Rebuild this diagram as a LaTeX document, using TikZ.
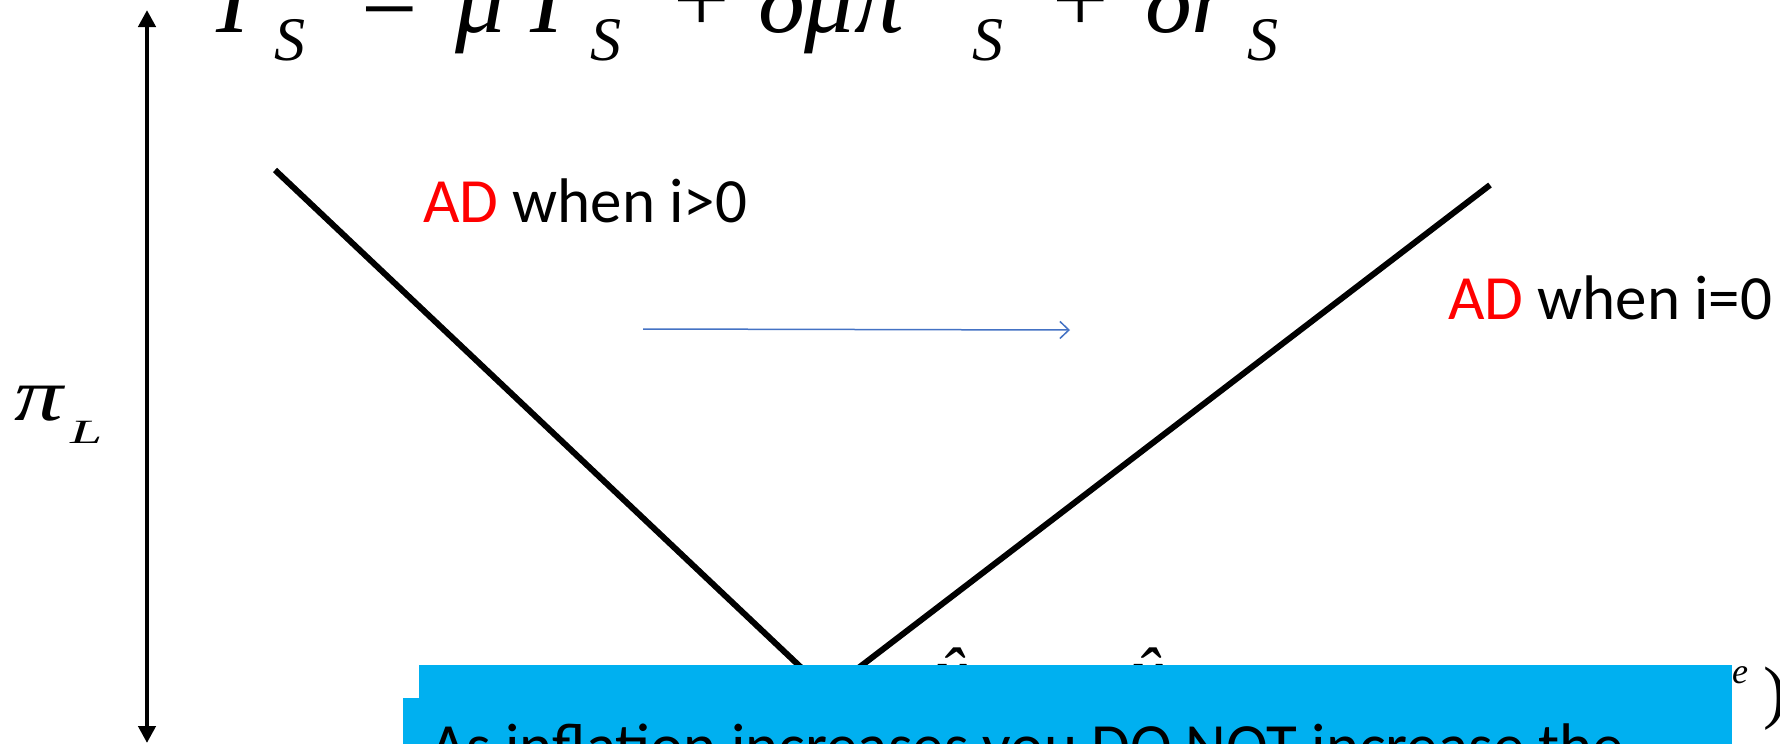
\documentclass[tikz,border=0pt]{standalone}
\usepackage{fontspec}
\setmainfont{Carlito}
\newfontfamily\tms{Liberation Serif}
\usetikzlibrary{arrows.meta}
\definecolor{boxblue}{RGB}{0,176,240}
\definecolor{arrblue}{RGB}{68,114,196}
\tikzset{
  eqbig/.style={inner sep=0pt, anchor=base west, font=\tms\itshape\fontsize{100}{100}\selectfont},
  eqsub/.style={inner sep=0pt, anchor=base west, font=\tms\itshape\fontsize{62}{62}\selectfont},
  eqop/.style={inner sep=0pt, anchor=base, font=\tms\fontsize{100}{100}\selectfont},
  txt/.style={inner sep=0pt, anchor=base west, font=\fontsize{63}{63}\selectfont},
  hatsty/.style={inner sep=0pt, anchor=base, font=\tms\itshape\fontsize{70}{70}\selectfont},
  curve/.style={line width=6pt, line join=miter},
  axisline/.style={line width=4.5pt, {Triangle[length=17pt,width=17pt]}-{Triangle[length=17pt,width=17pt]}},
  shiftarrow/.style={arrblue, line width=1.5pt, -{Straight Barb[length=9pt,width=17pt]}},
  cover/.style={fill=boxblue, draw=none, inner sep=0pt, anchor=north west},
}
\begin{document}
\begin{tikzpicture}[x=1pt,y=-1pt]
\useasboundingbox (0,0) rectangle (1780,744);
\clip (0,0) rectangle (1780,744);
\fill[white] (0,0) rectangle (1780,744);

% top formula (clipped)
\node[eqbig] (i1) at (216,32) {I};
\node[eqsub] (s1) at (274,60) {S};
\node[eqop] (eq) at (390,32) {=};
\node[eqbig] (mu1) at (455,32) {μ};
\node[eqbig] (i2) at (530,32) {I};
\node[eqsub] (s2) at (590,60) {S};
\node[eqop] (p1) at (702,32) {+};
\node[eqbig] (dmp) at (758,32) {δμπ};
\node[eqsub] (s3) at (972,60) {S};
\node[eqop] (p2) at (1081,32) {+};
\node[eqbig] (dr) at (1145,32) {δr};
\node[eqsub] (s4) at (1247,60) {S};

% vertical axis
\coordinate (atop) at (147,10);
\coordinate (abot) at (147,743);
\draw[axisline] (atop) -- (abot);

% pi_L
\node[inner sep=0pt, anchor=base west, font=\tms\itshape\fontsize{75}{75}\selectfont] (pi) at (14,420) {\scalebox{1.3}[1]{π}};
\node[inner sep=0pt, anchor=base west, font=\tms\itshape\fontsize{34}{34}\selectfont] (L) at (70,443) {\scalebox{1.7}[1]{L}};

% AD curves
\coordinate (lt) at (275,170);
\coordinate (rt) at (1490,185);
\coordinate (vx) at (827,692);
\draw[curve] (lt) -- (vx) -- (rt);

% labels
\node[txt] (ad1) at (423,222) {\textcolor{red}{AD} when i>0};
\node[txt] (ad2) at (1448,319) {\textcolor{red}{AD} when i=0};

% shift arrow
\coordinate (sa) at (643,329);
\coordinate (sb) at (1070,330);
\draw[shiftarrow] (sa) -- (sb);

% formula fragments behind the boxes
\node[hatsty] (yh1) at (952,696) {ŷ};
\node[hatsty] (yh2) at (1148,696) {ŷ};
\node[inner sep=0pt, anchor=base west, font=\tms\itshape\fontsize{36}{36}\selectfont] (sup) at (1732,683) {e};
\node[inner sep=0pt, anchor=base west, font=\tms\fontsize{70}{70}\selectfont] (par) at (1763,715) {)};

% blue boxes
\node[cover, minimum width=1313pt, minimum height=120pt] (box1) at (419,665) {};
\node[cover, minimum width=1329pt, minimum height=100pt] (box2) at (403,698) {};
\node[txt] (msg) at (430,767) {As inflation increases you DO NOT increase the};
\end{tikzpicture}
\end{document}
